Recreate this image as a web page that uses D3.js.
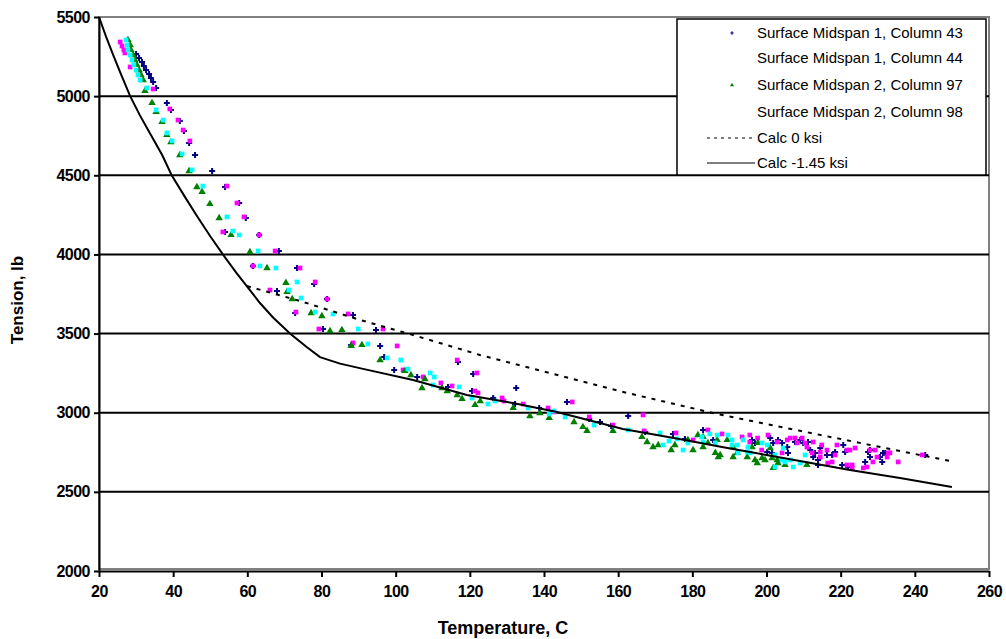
<!DOCTYPE html>
<html>
<head>
<meta charset="utf-8">
<script src="https://cdn.jsdelivr.net/npm/d3@7"></script>
<style>
  body { margin: 0; background: #fff; }
  text { font-family: "Liberation Sans", Arial, sans-serif; }
</style>
</head>
<body>
<div id="my_dataviz"></div>
<script>
// ---- data ----
var xTicks = [20, 40, 60, 80, 100, 120, 140, 160, 180, 200, 220, 240, 260];
var yTicks = [2000, 2500, 3000, 3500, 4000, 4500, 5000, 5500];
var seriesNames = ["Surface Midspan 1, Column 43", "Surface Midspan 1, Column 44",
    "Surface Midspan 2, Column 97", "Surface Midspan 2, Column 98", "Calc 0 ksi", "Calc -1.45 ksi"];

// [temperature C, tension lb]
var col43 = [[30.0,5266],[30.8,5241],[31.6,5216],[32.1,5191],[32.7,5165],[33.5,5140],[34.0,5115],[34.6,5090],[35.4,5052],
    [38.3,4957],[39.4,4913],[41.8,4843],[42.9,4780],[44.3,4704],[45.9,4628],[50.5,4527],[54.0,4426],[57.8,4325],[59.6,4230],
    [54.0,4142],[63.2,4123],[68.5,4022],[61.5,3927],[73.4,3914],[78.0,3813],[68.0,3769],[81.5,3718],[72.9,3630],[88.5,3617],
    [80.4,3529],[94.7,3523],[88.0,3428],[95.8,3422],[96.9,3352],[99.6,3270],[105.8,3226],[120.9,3245],[116.8,3320],[114.1,3163],
    [120.6,3137],[126.3,3093],[132.5,3156],[132.2,3055],[138.7,3030],[146.2,3068],[152.2,2960],[155.1,2941],[158.1,2916],
    [162.7,2979],[167.3,2878],[174.8,2866],[178.0,2834],[182.9,2891],[185.6,2828],[196.1,2828],[196.9,2809],[200.2,2752],
    [201.0,2840],[201.8,2809],[201.5,2746],[203.1,2828],[204.2,2809],[205.6,2783],[205.8,2746],[207.7,2815],[209.1,2828],
    [209.9,2809],[211.2,2815],[211.8,2764],[213.1,2746],[212.6,2720],[213.9,2701],[213.9,2670],[214.5,2777],[216.3,2733],
    [217.7,2733],[218.5,2752],[220.7,2796],[221.2,2752],[220.4,2670],[222.0,2657],[226.6,2689],[227.9,2764],[227.4,2752],
    [227.9,2720],[230.6,2720],[231.4,2746],[232.0,2746],[231.2,2689],[242.8,2733]];

var col44 = [[25.7,5342],[26.2,5317],[26.7,5292],[27.0,5273],[28.4,5184],[31.1,5134],[34.6,5045],[39.1,4919],[41.3,4849],
    [42.7,4786],[44.5,4717],[54.5,4432],[57.2,4325],[59.1,4237],[53.4,4142],[63.2,4123],[67.5,4022],[61.5,3927],[74.2,3914],
    [78.3,3826],[66.1,3775],[81.5,3718],[73.1,3636],[87.2,3624],[79.3,3529],[96.6,3529],[88.5,3441],[100.4,3422],[102.0,3270],
    [107.4,3226],[116.6,3333],[121.9,3251],[112.2,3188],[115.2,3169],[121.4,3137],[122.2,3125],[128.7,3093],[129.2,3074],
    [134.4,3055],[141.1,3030],[142.7,3005],[147.6,3068],[152.2,2973],[158.6,2922],[166.7,2986],[167.0,2885],[175.6,2872],
    [180.2,2828],[184.2,2891],[188.0,2866],[193.4,2847],[195.5,2859],[195.5,2815],[197.6,2840],[198.7,2764],[200.4,2859],
    [202.9,2815],[204.2,2746],[205.6,2828],[206.4,2840],[207.7,2840],[208.3,2809],[209.6,2840],[210.4,2809],[210.9,2783],
    [212.6,2815],[212.3,2746],[214.9,2796],[214.5,2752],[214.5,2720],[216.3,2764],[216.5,2682],[217.7,2689],[219.0,2796],
    [218.5,2733],[221.7,2764],[221.7,2670],[222.5,2764],[223.9,2777],[223.1,2670],[223.1,2651],[226.1,2651],[227.1,2657],
    [227.9,2764],[229.3,2764],[228.7,2689],[229.8,2720],[232.8,2746],[233.3,2746],[232.5,2720],[235.5,2689],[242.0,2733]];

var col97 = [[27.8,5355],[28.4,5323],[28.6,5292],[29.2,5260],[29.7,5228],[30.2,5197],[30.8,5165],[31.3,5134],[31.9,5102],
    [32.4,5033],[34.3,4957],[35.4,4900],[37.0,4837],[38.3,4755],[39.4,4710],[41.8,4628],[44.3,4527],[46.4,4426],[47.8,4395],
    [49.9,4319],[52.4,4230],[55.6,4123],[60.7,4015],[65.3,3914],[70.4,3820],[70.7,3763],[72.1,3718],[77.2,3630],[80.1,3611],
    [82.3,3516],[85.5,3523],[88.0,3422],[90.9,3428],[95.8,3333],[102.5,3264],[104.1,3238],[107.9,3213],[107.1,3156],
    [112.5,3156],[113.9,3137],[116.6,3112],[117.9,3087],[122.8,3074],[121.4,3049],[131.7,3030],[136.2,2979],[138.9,2998],
    [141.4,2967],[148.1,2941],[150.5,2910],[151.6,2885],[158.6,2885],[166.4,2847],[167.8,2815],[170.8,2796],[169.4,2783],
    [175.3,2796],[174.3,2764],[178.8,2828],[180.2,2764],[181.5,2859],[182.9,2783],[182.9,2847],[184.2,2809],[186.2,2746],
    [187.0,2720],[186.7,2828],[187.5,2733],[189.4,2828],[191.0,2783],[191.0,2720],[192.1,2746],[194.8,2720],[196.1,2783],
    [196.9,2701],[197.5,2682],[197.7,2809],[198.8,2714],[199.6,2701],[201.0,2777],[201.5,2714],[201.8,2651],[202.9,2701],
    [203.1,2682],[205.0,2670],[210.9,2670]];

var col98 = [[27.3,5355],[27.6,5323],[27.8,5292],[28.4,5260],[28.9,5228],[29.4,5197],[30.0,5165],[30.5,5134],[31.1,5102],
    [32.9,5052],[35.4,4913],[37.3,4849],[38.3,4767],[39.7,4717],[42.4,4635],[45.1,4534],[48.0,4432],[54.5,4237],[56.1,4148],
    [57.8,4123],[62.9,4022],[63.4,3927],[67.7,3914],[73.4,3826],[71.2,3775],[74.5,3725],[78.3,3636],[83.1,3624],[89.9,3529],
    [92.5,3434],[97.7,3346],[101.4,3333],[103.3,3276],[109.3,3251],[110.4,3226],[110.1,3175],[117.1,3163],[120.6,3093],
    [126.8,3074],[124.9,3055],[135.7,3030],[141.4,2992],[142.7,3011],[145.7,2973],[153.5,2922],[162.7,2891],[171.3,2872],
    [172.1,2796],[173.7,2821],[175.9,2834],[177.5,2764],[178.8,2809],[182.6,2847],[184.7,2866],[186.7,2859],[182.9,2815],
    [186.2,2809],[189.6,2859],[190.7,2828],[190.7,2796],[192.1,2796],[192.3,2746],[193.7,2828],[194.8,2752],[195.0,2783],
    [195.6,2746],[198.8,2809],[200.2,2796],[202.3,2733],[202.3,2657],[204.5,2777],[204.2,2701],[205.0,2689],[206.4,2701],
    [207.2,2657],[209.1,2682],[210.4,2733]];

var calc0 = [[59.9,3800],[74.2,3706],[90.4,3586],[104.7,3491],[122.7,3365],[142.4,3245],[162.4,3125],[186.7,2992],
    [209,2886],[227.1,2800],[249.5,2695]];

var calc145 = [[20,5500],[22,5370],[24,5250],[26,5135],[28.4,5000],[31,4880],[34,4755],[37,4630],[39.6,4500],[43,4370],
    [46.5,4240],[50,4115],[53.4,4000],[57,3885],[60,3795],[63.4,3693],[67,3600],[71.5,3500],[76,3415],[79.6,3351],
    [85,3310],[91.2,3277],[104.7,3207],[119.2,3112],[131.6,3061],[143.5,3005],[161.3,2897],[175,2840],[188,2783],
    [200,2733],[209,2695],[222.5,2638],[236,2588],[250,2531]];

var margin = { top: 17, right: 17, bottom: 68, left: 99 },
    width = 1006 - margin.left - margin.right,
    height = 639 - margin.top - margin.bottom;

var svg = d3.select("#my_dataviz")
    .append("svg")
    .attr("width", 1006)
    .attr("height", 639)
    .append("g")
    .attr("transform", "translate(" + margin.left + "," + margin.top + ")");

var x = d3.scaleLinear().domain([20, 260]).range([0, width]);
var y = d3.scaleLinear().domain([2000, 5500]).range([height, 0]);

// plot border (grey)
svg.append("rect")
    .attr("x", 0).attr("y", 0)
    .attr("width", width).attr("height", height - 2)
    .attr("fill", "none")
    .attr("stroke", "#808080")
    .attr("stroke-width", 2);

// gridlines
svg.selectAll("grid")
    .data(yTicks.filter(function(d) { return d > 2000 && d < 5500; }))
    .enter()
    .append("line")
    .attr("x1", 0).attr("x2", width)
    .attr("y1", function(d) { return y(d); })
    .attr("y2", function(d) { return y(d); })
    .attr("stroke", "black")
    .attr("stroke-width", 2);

var xAxis = svg.append("g")
    .attr("transform", "translate(0," + height + ")")
    .call(d3.axisBottom(x).tickValues(xTicks).tickSize(6).tickPadding(9).tickSizeOuter(0)
        .tickFormat(d3.format("d")));
var yAxis = svg.append("g")
    .call(d3.axisLeft(y).tickValues(yTicks).tickSize(5).tickPadding(4).tickSizeOuter(0)
        .tickFormat(d3.format("d")));

[xAxis, yAxis].forEach(function(a) {
    a.select(".domain").attr("stroke", "black").attr("stroke-width", 2);
    a.selectAll(".tick line").attr("stroke", "black").attr("stroke-width", 2);
    a.selectAll("text")
        .style("font-size", "16px")
        .style("font-weight", "bold")
        .style("letter-spacing", "-0.5px")
        .style("fill", "black");
});

// axis titles
svg.append("text")
    .attr("x", 404)
    .attr("y", height + 63)
    .attr("text-anchor", "middle")
    .style("font-size", "18px")
    .style("font-weight", "bold")
    .text("Temperature, C");

svg.append("text")
    .attr("transform", "rotate(-90)")
    .attr("x", -283)
    .attr("y", -76)
    .attr("text-anchor", "middle")
    .style("font-size", "17px")
    .style("font-weight", "bold")
    .text("Tension, lb");

// scatter series
var series = [
    { data: col43, color: "#000080", shape: d3.symbolCross, size: 20 },
    { data: col44, color: "#ff00ff", shape: d3.symbolSquare, size: 22 },
    { data: col97, color: "#008000", shape: d3.symbolTriangle, size: 24 },
    { data: col98, color: "#00ffff", shape: d3.symbolSquare, size: 22 }
];

series.forEach(function(s) {
    svg.append("g")
        .selectAll("path")
        .data(s.data)
        .enter()
        .append("path")
        .attr("transform", function(d) { return "translate(" + x(d[0]) + "," + y(d[1]) + ")"; })
        .attr("d", d3.symbol().type(s.shape).size(s.size))
        .attr("fill", s.color);
});

var line = d3.line()
    .x(function(d) { return x(d[0]); })
    .y(function(d) { return y(d[1]); });

svg.append("path")
    .datum(calc0)
    .attr("d", line)
    .attr("fill", "none")
    .attr("stroke", "black")
    .attr("stroke-width", 2)
    .attr("stroke-dasharray", "4,6");

svg.append("path")
    .datum(calc145)
    .attr("d", line)
    .attr("fill", "none")
    .attr("stroke", "black")
    .attr("stroke-width", 2);

// legend
var lg = svg.append("g").attr("transform", "translate(578,2)");
lg.append("rect")
    .attr("width", 309).attr("height", 156)
    .attr("fill", "white")
    .attr("stroke", "black")
    .attr("stroke-width", 1.5);

var rowY = [14, 39, 66, 93, 119, 144];
seriesNames.forEach(function(name, i) {
    lg.append("text")
        .attr("x", 80)
        .attr("y", rowY[i] + 5)
        .style("font-size", "15px")
        .style("fill", "black")
        .text(name);
});
lg.append("path")
    .attr("transform", "translate(55," + rowY[0] + ")")
    .attr("d", d3.symbol().type(d3.symbolCross).size(6))
    .attr("fill", "#000080");
lg.append("path")
    .attr("transform", "translate(55," + rowY[2] + ")")
    .attr("d", d3.symbol().type(d3.symbolTriangle).size(7))
    .attr("fill", "#008000");
lg.append("line")
    .attr("x1", 30).attr("x2", 78)
    .attr("y1", rowY[4]).attr("y2", rowY[4])
    .attr("stroke", "black").attr("stroke-width", 1)
    .attr("stroke-dasharray", "3,4");
lg.append("line")
    .attr("x1", 30).attr("x2", 78)
    .attr("y1", rowY[5]).attr("y2", rowY[5])
    .attr("stroke", "black").attr("stroke-width", 1);
</script>
</body>
</html>
